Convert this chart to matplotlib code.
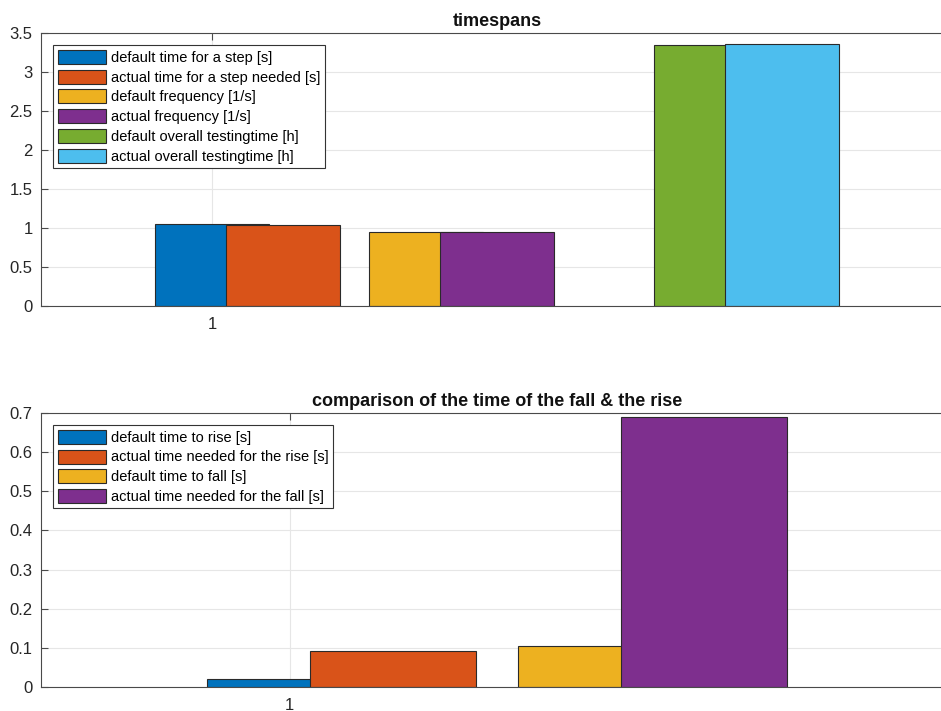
#!/usr/bin/env python3

import matplotlib.pyplot as plt

# upper plot: step timing, frequency and total testing time
span_labels = ['default time for a step [s]',
               'actual time for a step needed [s]',
               'default frequency [1/s]',
               'actual frequency [1/s]',
               'default overall testingtime [h]',
               'actual overall testingtime [h]']
span_values = [1.047, 1.040, 0.943, 0.950, 3.346, 3.365]
span_pos = [1, 1.5, 2.5, 3, 4.5, 5]
span_ticks = [0, 0.5, 1, 1.5, 2, 2.5, 3, 3.5]

# lower plot: rise and fall times
edge_labels = ['default time to rise [s]',
               'actual time needed for the rise [s]',
               'default time to fall [s]',
               'actual time needed for the fall [s]']
edge_values = [0.021, 0.092, 0.106, 0.689]
edge_pos = [1, 1.5, 2.5, 3]
edge_ticks = [0, 0.1, 0.2, 0.3, 0.4, 0.5, 0.6, 0.7]

colors = ['#0072BD', '#D95319', '#EDB120', '#7E2F8E', '#77AC30', '#4DBEEE']

plt.rcParams['font.family'] = ['Liberation Sans', 'DejaVu Sans']
W, H = 941, 711
fig = plt.figure(figsize=(W / 100, H / 100), dpi=100)


def axes_px(left, top, right, bottom):
    return fig.add_axes([left / W, 1 - bottom / H, (right - left) / W, (bottom - top) / H])


def style(ax, xmax, yticks, title):
    ax.set_xlim(-0.2, xmax)
    ax.set_ylim(yticks[0], yticks[-1])
    ax.set_yticks(yticks)
    ax.set_yticklabels([('%g' % t) for t in yticks])
    ax.set_xticks([1])
    ax.set_axisbelow(True)
    ax.grid(True, color='#e6e6e6', linewidth=0.8)
    for s in ax.spines.values():
        s.set_color('#4a4a4a')
        s.set_linewidth(0.8)
    ax.tick_params(direction='in', length=5, width=0.8, color='#4a4a4a',
                   labelsize=12, labelcolor='#262626', top=True, right=True)
    ax.tick_params(axis='y', pad=6)
    ax.tick_params(axis='x', pad=8)
    ax.set_title(title, fontsize=13, fontweight='bold', color='#111111', pad=5)


def bars(ax, pos, values, labels):
    for i, (x, v, lab) in enumerate(zip(pos, values, labels)):
        ax.bar(x, v, width=0.8, color=colors[i], edgecolor='#2a2a2a',
               linewidth=0.8, label=lab)
    leg = ax.legend(loc='upper left', fontsize=10.5, handlelength=3.3,
                    handleheight=1.1, labelspacing=0.33, handletextpad=0.35,
                    borderpad=0.3, borderaxespad=0.85, fancybox=False,
                    framealpha=1, edgecolor='#333333')
    leg.get_frame().set_linewidth(0.8)


ax1 = axes_px(41, 33, 953, 306)
bars(ax1, span_pos, span_values, span_labels)
style(ax1, 6.2, span_ticks, 'timespans')

ax2 = axes_px(41, 413, 953, 687)
bars(ax2, edge_pos, edge_values, edge_labels)
style(ax2, 4.2, edge_ticks, 'comparison of the time of the fall & the rise')

fig.savefig('out.png', dpi=100)
